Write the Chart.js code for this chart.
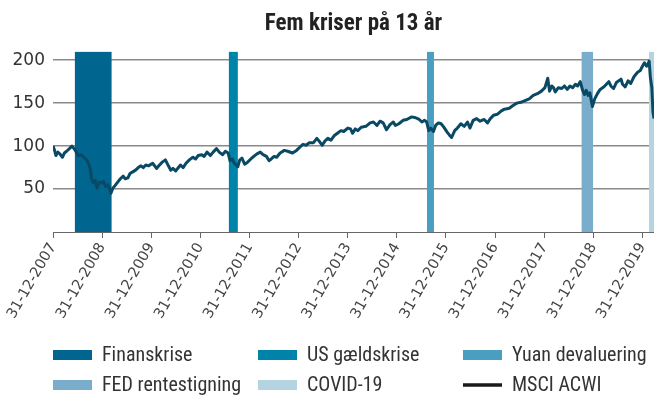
<!DOCTYPE html>
<html>
<head>
<meta charset="utf-8">
<script src="https://cdn.jsdelivr.net/npm/chart.js@4.4.1/dist/chart.umd.min.js"></script>
<style>
html,body{margin:0;padding:0;background:#fff;}
canvas{display:block;}
</style>
</head>
<body>
<canvas id="c" width="654" height="410"></canvas>
<script>
// ---- Data ----
const dates = [
'2007-12-31','2008-01-10','2008-01-22','2008-02-05','2008-02-20','2008-03-10','2008-03-25','2008-04-10','2008-05-01','2008-05-20',
'2008-06-10','2008-07-05','2008-07-25','2008-08-15','2008-09-05','2008-09-20','2008-10-05','2008-10-12','2008-10-25','2008-11-10',
'2008-11-22','2008-12-10','2008-12-28','2009-01-10','2009-01-25','2009-02-10','2009-02-25','2009-03-06','2009-03-20','2009-04-05',
'2009-04-25','2009-05-15','2009-06-05','2009-06-20','2009-07-10','2009-07-25','2009-08-15','2009-09-05','2009-09-25','2009-10-15',
'2009-11-01','2009-11-20','2009-12-10','2010-01-10','2010-01-25','2010-02-08','2010-02-25','2010-03-20','2010-04-15','2010-05-07',
'2010-05-25','2010-06-10','2010-06-30','2010-07-15','2010-08-05','2010-08-25','2010-09-15','2010-10-10','2010-11-05','2010-11-25',
'2010-12-15','2011-01-10','2011-01-28','2011-02-18','2011-03-15','2011-04-05','2011-04-30','2011-05-20','2011-06-15','2011-07-05',
'2011-07-25','2011-08-08','2011-08-25','2011-09-10','2011-09-25','2011-10-05','2011-10-20','2011-11-05','2011-11-25','2011-12-15',
'2012-01-10','2012-02-01','2012-02-25','2012-03-20','2012-04-10','2012-05-05','2012-05-25','2012-06-10','2012-07-01','2012-07-20',
'2012-08-15','2012-09-15','2012-10-10','2012-11-15','2012-12-15','2013-01-10','2013-02-01','2013-02-25','2013-03-20','2013-04-20',
'2013-05-15','2013-06-05','2013-06-24','2013-07-15','2013-08-05','2013-08-28','2013-09-20','2013-10-15','2013-11-10','2013-12-01',
'2013-12-31','2014-01-20','2014-02-05','2014-02-25','2014-03-15','2014-04-10','2014-05-15','2014-06-15','2014-07-10','2014-08-05',
'2014-08-28','2014-09-20','2014-10-15','2014-11-10','2014-12-05','2014-12-20','2015-01-15','2015-02-15','2015-03-15','2015-04-20',
'2015-05-20','2015-06-15','2015-07-05','2015-07-25','2015-08-10','2015-08-25','2015-09-10','2015-09-29','2015-10-15','2015-11-05',
'2015-11-25','2015-12-15','2016-01-10','2016-01-25','2016-02-11','2016-03-05','2016-03-25','2016-04-20','2016-05-15','2016-06-08',
'2016-06-27','2016-07-20','2016-08-15','2016-09-10','2016-10-10','2016-11-04','2016-11-25','2016-12-20','2017-01-15','2017-02-15',
'2017-03-10','2017-04-15','2017-05-10','2017-06-10','2017-07-10','2017-08-10','2017-09-10','2017-10-10','2017-11-10','2017-12-10',
'2018-01-05','2018-01-26','2018-02-08','2018-02-25','2018-03-10','2018-03-23','2018-04-15','2018-05-10','2018-05-30','2018-06-20',
'2018-07-10','2018-07-30','2018-08-20','2018-09-05','2018-09-25','2018-10-10','2018-10-25','2018-11-08','2018-11-22','2018-12-05',
'2018-12-24','2019-01-10','2019-01-30','2019-02-20','2019-03-20','2019-04-25','2019-05-10','2019-05-30','2019-06-20','2019-07-25',
'2019-08-05','2019-08-25','2019-09-15','2019-10-05','2019-10-30','2019-11-25','2019-12-15','2019-12-31','2020-01-15','2020-01-31',
'2020-02-12','2020-02-19','2020-02-28','2020-03-10','2020-03-18','2020-03-26'
];
const msciAcwi = [
100,96,89,93,91,87,92,94,97,100,
96,89,90,87,84,80,72,62,57,60,
51,58,57,59,53,55,50,45,51,54,
58,62,65,62,63,68,70,72,75,77,
75,78,77,80,77,74,77,81,84,77,
72,74,71,74,78,75,80,84,87,85,
89,90,88,93,89,93,97,93,90,94,
92,83,85,80,78,76,84,86,79,81,
85,88,91,93,90,88,83,85,88,87,
92,95,94,92,95,99,102,101,104,104,
109,105,101,106,109,107,112,115,118,117,
121,120,115,120,118,122,123,127,128,124,
129,127,119,125,128,124,126,130,131,134,
133,131,128,130,128,118,121,117,124,127,
126,122,116,113,110,118,121,126,123,128,
121,130,132,129,131,127,132,136,137,141,
143,144,147,150,151,153,155,159,161,164,
168,179,164,170,168,163,168,167,170,166,
170,168,172,170,175,166,160,165,159,162,
146,155,161,166,169,175,170,167,174,178,
172,169,176,173,181,186,188,193,197,193,
196,199,180,168,140,132
];
const crisisNames = ['Finanskrise','US gældskrise','Yuan devaluering','FED rentestigning','COVID-19'];
const crisisStart = ['2008-06-09','2011-07-29','2015-08-11','2018-10-03','2020-02-17'];
const crisisEnd   = ['2009-03-12','2011-10-06','2015-10-03','2018-12-30','2020-03-26'];
const lineName = 'MSCI ACWI';
const tickDates = ['2007-12-31','2008-12-31','2009-12-31','2010-12-31','2011-12-31','2012-12-31','2013-12-31',
                   '2014-12-31','2015-12-31','2016-12-31','2017-12-31','2018-12-31','2019-12-31'];
const yTicks = [50,100,150,200];

// ---- Styles ----
const crisisColors = ['#00668f','#0083a8','#4a9fc0','#7aaccb','#b3d4e0'];
const lineColor = '#0a4964';
const condensed = '"Liberation Sans Narrow","Arial Narrow","Roboto Condensed",sans-serif';

const day0 = Date.parse('2007-12-31');
const toX = d => (Date.parse(d) - day0) / 864e5;
const fmt = d => { const p = d.split('-'); return p[2] + '-' + p[1] + '-' + p[0]; };
const xMax = toX(dates[dates.length - 1]);
const Y_MAX = 210;

const datasets = crisisNames.map((n, i) => ({
  label: n,
  type: 'line',
  data: [{x: toX(crisisStart[i]), y: Y_MAX}, {x: toX(crisisEnd[i]), y: Y_MAX}],
  backgroundColor: crisisColors[i],
  borderColor: crisisColors[i],
  borderWidth: 0,
  pointRadius: 0,
  fill: 'origin',
  order: 1,
  _legendType: 'box'
}));
datasets.push({
  label: lineName,
  type: 'line',
  data: dates.map((d, i) => ({x: toX(d), y: msciAcwi[i]})),
  borderColor: lineColor,
  borderWidth: 3,
  borderJoinStyle: 'round',
  pointRadius: 0,
  tension: 0,
  fill: false,
  order: -1,
  _legendType: 'line',
  _legendColor: '#1a1a1a'
});

const legendPlugin = {
  id: 'gridLegend',
  afterDraw(chart) {
    const ctx = chart.ctx;
    const left = chart.chartArea.left;
    const colW = 205;
    const rows = [chart.chartArea.bottom + 123, chart.chartArea.bottom + 153];
    ctx.save();
    ctx.font = '20px ' + condensed;
    ctx.textBaseline = 'middle';
    ctx.textAlign = 'left';
    chart.data.datasets.forEach((ds, i) => {
      const col = i % 3, row = Math.floor(i / 3);
      const x = left + col * colW, y = rows[row];
      if (ds._legendType === 'line') {
        ctx.strokeStyle = ds._legendColor;
        ctx.lineWidth = 3.5;
        ctx.beginPath(); ctx.moveTo(x, y); ctx.lineTo(x + 39, y); ctx.stroke();
      } else {
        ctx.fillStyle = ds.backgroundColor;
        ctx.fillRect(x, y - 5, 39, 10);
      }
      ctx.fillStyle = '#333';
      ctx.fillText(ds.label, x + 49, y + 1);
    });
    ctx.restore();
  }
};

new Chart(document.getElementById('c'), {
  type: 'line',
  data: { datasets },
  options: {
    responsive: false,
    animation: false,
    devicePixelRatio: 1,
    layout: { padding: { left: 0, right: 0, top: 0, bottom: 0 } },
    plugins: {
      legend: { display: false },
      tooltip: { enabled: false },
      title: {
        display: true,
        text: 'Fem kriser på 13 år',
        fullSize: false,
        color: '#222',
        font: { family: condensed, size: 23, weight: 'bold' },
        padding: { top: 10, bottom: 14 }
      }
    },
    scales: {
      x: {
        type: 'linear',
        min: 0,
        max: xMax,
        afterBuildTicks: s => { s.ticks = tickDates.map(d => ({ value: toX(d) })); },
        afterFit: s => { s.height = 178; s.paddingLeft = 0; s.paddingRight = 0; },
        grid: { drawOnChartArea: false, drawTicks: true, tickLength: 6, color: '#666', lineWidth: 1 },
        border: { display: true, color: '#666', width: 1 },
        ticks: {
          autoSkip: false,
          maxRotation: 60,
          minRotation: 60,
          padding: 2,
          color: '#444',
          font: { family: '"DejaVu Sans",sans-serif', size: 14.5 },
          callback: (v, i) => fmt(tickDates[i])
        }
      },
      y: {
        min: 0,
        max: Y_MAX,
        afterBuildTicks: s => { s.ticks = yTicks.map(v => ({ value: v })); },
        afterFit: s => { s.width = 53; },
        grid: { drawTicks: false, color: '#8a8a8a', lineWidth: 1.5 },
        border: { display: false },
        ticks: {
          padding: 8,
          color: '#333',
          font: { family: '"DejaVu Sans",sans-serif', size: 17 }
        }
      }
    }
  },
  plugins: [legendPlugin]
});
</script>
</body>
</html>
